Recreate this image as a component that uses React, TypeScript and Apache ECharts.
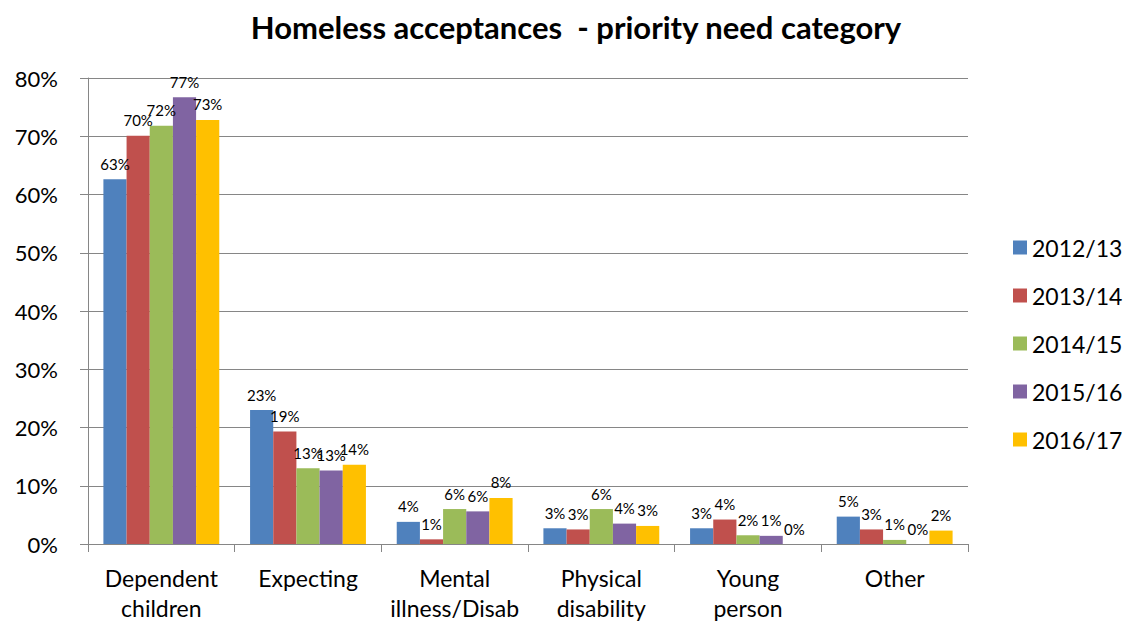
import React, { useEffect, useRef } from "react";
import * as echarts from "echarts";

const categories = ["Dependent\nchildren", "Expecting", "Mental\nillness/Disab", "Physical\ndisability", "Young\nperson", "Other"];
const seriesNames = ["2012/13", "2013/14", "2014/15", "2015/16", "2016/17"];
const v2012 = [62.6, 23.0, 3.8, 2.7, 2.7, 4.7];
const v2013 = [70.1, 19.3, 0.8, 2.5, 4.2, 2.5];
const v2014 = [71.8, 13.0, 6.0, 6.0, 1.5, 0.7];
const v2015 = [76.7, 12.6, 5.6, 3.5, 1.4, 0];
const v2016 = [72.8, 13.6, 7.9, 3.1, 0, 2.3];
const colors = ["#4F81BD", "#C0504D", "#9BBB59", "#8064A2", "#FFC000"];
const yTicks = [0, 10, 20, 30, 40, 50, 60, 70, 80];

const FONT = "Lato, 'Open Sans', sans-serif";

export default function App() {
  const ref = useRef<HTMLDivElement>(null);
  useEffect(() => {
    if (!ref.current) return;
    const chart = echarts.init(ref.current, null, { renderer: "svg" });
    const all = [v2012, v2013, v2014, v2015, v2016];
    chart.setOption({
      animation: false,
      backgroundColor: "#ffffff",
      title: {
        text: "Homeless acceptances  - priority need category",
        left: 571,
        textAlign: "center",
        top: 6,
        textStyle: { fontFamily: FONT, fontSize: 31, fontWeight: "bold", color: "#000" },
      },
      legend: {
        orient: "vertical",
        left: 1008,
        top: 231,
        itemGap: 25,
        itemWidth: 14,
        itemHeight: 14,
        icon: "rect",
        textStyle: { fontFamily: FONT, fontSize: 23, color: "#000" },
        data: seriesNames,
      },
      grid: { left: 88, right: 162, top: 78, bottom: 80 },
      xAxis: {
        type: "category",
        data: categories,
        axisLine: { lineStyle: { color: "#868686", width: 1 } },
        axisTick: { show: true, length: 8, lineStyle: { color: "#868686" } },
        axisLabel: { fontFamily: FONT, fontSize: 23, color: "#000", margin: 19, lineHeight: 30, interval: 0 },
      },
      yAxis: {
        type: "value",
        min: 0,
        max: 80,
        interval: 10,
        axisLine: { show: true, lineStyle: { color: "#868686" } },
        axisTick: { show: true, length: 8, lineStyle: { color: "#868686" } },
        splitLine: { lineStyle: { color: "#868686" } },
        axisLabel: {
          fontFamily: FONT,
          fontSize: 22,
          color: "#000",
          margin: 30,
          formatter: (v: number) => (yTicks.includes(v) ? v + "%" : ""),
        },
      },
      series: seriesNames.map((name, i) => ({
        name,
        type: "bar",
        data: all[i],
        barGap: "0%",
        barCategoryGap: "21%",
        itemStyle: { color: colors[i] },
        label: {
          show: true,
          position: "top",
          distance: 8,
          fontFamily: FONT,
          fontSize: 15,
          color: "#000",
          formatter: (p: any) => Math.round(p.value) + "%",
        },
      })),
    });
    return () => chart.dispose();
  }, []);
  return <div ref={ref} style={{ width: 1130, height: 624, position: "absolute", left: 0, top: 0 }} />;
}
